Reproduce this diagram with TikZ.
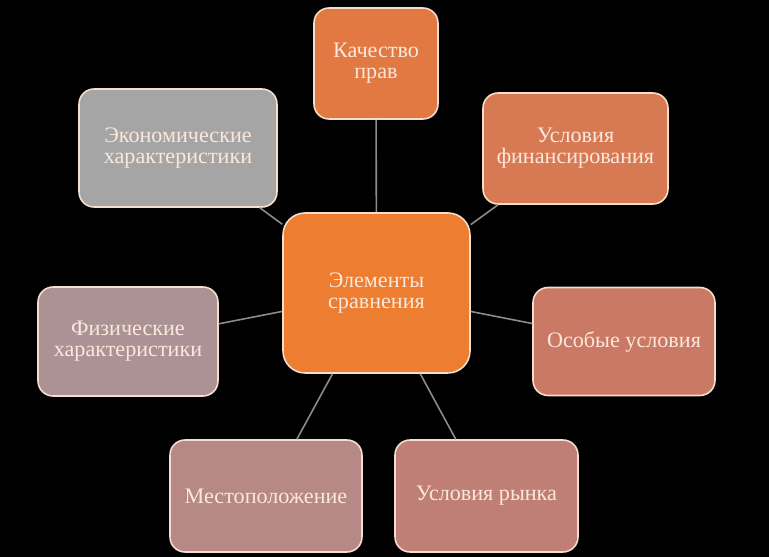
\documentclass[tikz,border=0pt]{standalone}
\usepackage{fontspec}
\setmainfont{Liberation Serif}
\usepackage{tikz}
\usetikzlibrary{positioning}

\definecolor{bgblack}{RGB}{0,0,0}
\definecolor{linegray}{RGB}{140,140,140}
\definecolor{edgepeach}{RGB}{245,222,205}
\definecolor{textpeach}{RGB}{250,232,220}
\definecolor{corecol}{RGB}{237,125,49}
\definecolor{kachcol}{RGB}{226,121,66}
\definecolor{fincol}{RGB}{215,122,84}
\definecolor{osobcol}{RGB}{202,121,100}
\definecolor{rynokcol}{RGB}{191,126,118}
\definecolor{mestocol}{RGB}{182,136,134}
\definecolor{fizcol}{RGB}{172,146,148}
\definecolor{ekoncol}{RGB}{165,165,165}

\begin{document}
\begin{tikzpicture}[x=0.02cm, y=-0.02cm,
  every node/.style={font=\fontsize{12.6}{12}\selectfont, text=textpeach},
  elem/.style={rectangle, draw=edgepeach, line width=0.9pt, rounded corners=0.3cm, align=center, minimum height=2.2cm},
  link/.style={draw=linegray, line width=0.9pt}]
\fill[bgblack] (0,0) rectangle (769,557);
\useasboundingbox (0,0) rectangle (769,557);
\node[elem, fill=corecol, minimum width=3.74cm, minimum height=3.2cm, rounded corners=0.44cm] (c) at (376.5,293) {Элементы\\сравнения};
\node[elem, fill=kachcol, minimum width=2.48cm, minimum height=2.22cm] (kach) at (376,63.5) {Качество\\прав};
\node[elem, fill=fincol, minimum width=3.7cm, minimum height=2.22cm] (fin) at (575.5,148.5) {Условия\\финансирования};
\node[elem, fill=osobcol, minimum width=3.64cm, minimum height=2.16cm] (osob) at (624,341.5) {Особые условия};
\node[elem, fill=rynokcol, minimum width=3.66cm, minimum height=2.24cm] (rynok) at (486.5,496) {Условия рынка};
\node[elem, fill=mestocol, minimum width=3.84cm, minimum height=2.24cm] (mesto) at (266,496) {Местоположение};
\node[elem, fill=fizcol, minimum width=3.6cm, minimum height=2.18cm] (fiz) at (128,341.5) {Физические\\характеристики};
\node[elem, fill=ekoncol, minimum width=3.96cm, minimum height=2.36cm] (ekon) at (178,148) {Экономические\\характеристики};
\draw[link] (c) -- (kach);
\draw[link] (c) -- (fin);
\draw[link] (c) -- (osob);
\draw[link] (c) -- (rynok);
\draw[link] (c) -- (mesto);
\draw[link] (c) -- (fiz);
\draw[link] (c) -- (ekon);
\end{tikzpicture}
\end{document}
